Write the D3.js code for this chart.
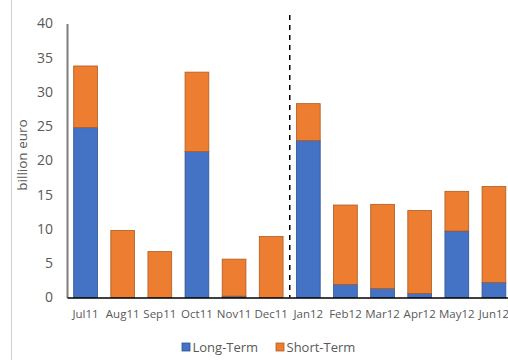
<!DOCTYPE html>
<html>
<head>
<meta charset="utf-8">
<script src="https://cdn.jsdelivr.net/npm/d3@7"></script>
<style>
  html, body { margin: 0; padding: 0; background: #fff; }
  svg { display: block; }
  text { font-family: "Open Sans", "Noto Sans", sans-serif; }
</style>
</head>
<body>
<svg id="chart" width="508" height="360"></svg>
<script>
// Monthly issuance, billion euro
const months = ["Jul11", "Aug11", "Sep11", "Oct11", "Nov11", "Dec11",
                "Jan12", "Feb12", "Mar12", "Apr12", "May12", "Jun12"];
const longTerm  = [24.8, 0, 0, 21.3, 0.2, 0, 22.9, 1.9, 1.3, 0.6, 9.7, 2.2];
const shortTerm = [9.0, 9.8, 6.7, 11.6, 5.4, 8.9, 5.4, 11.6, 12.3, 12.1, 5.8, 14.0];
const yTicks = [0, 5, 10, 15, 20, 25, 30, 35, 40];
const seriesNames = ["Long-Term", "Short-Term"];
const seriesColors = ["#4472C4", "#ED7D31"];
const seriesStrokes = ["#2F528F", "#AE5A21"];
const splitAfter = "Dec11";

const svg = d3.select("#chart");
const plotLeft = 67, plotRight = 512.5, plotTop = 23.5, plotBottom = 297.5;

const x = d3.scaleBand().domain(months).range([plotLeft, plotRight]).paddingInner(0.36).paddingOuter(0.18);
const y = d3.scaleLinear().domain([0, 40]).range([plotBottom, plotTop]);

// outer frame edge
svg.append("line").attr("x1", 11.5).attr("x2", 11.5).attr("y1", 0).attr("y2", 360)
  .attr("stroke", "#d0d0d0").attr("stroke-width", 1);

const rows = months.map((m, i) => ({ month: m, "Long-Term": longTerm[i], "Short-Term": shortTerm[i] }));
const stacked = d3.stack().keys(seriesNames)(rows);

svg.append("g").selectAll("g").data(stacked).join("g")
  .attr("fill", (d, i) => seriesColors[i])
  .attr("stroke", (d, i) => seriesStrokes[i])
  .attr("stroke-width", 0.8)
  .selectAll("rect")
  .data(d => d.filter(p => p[1] - p[0] > 0))
  .join("rect")
  .attr("x", d => x(d.data.month))
  .attr("width", x.bandwidth())
  .attr("y", d => y(d[1]))
  .attr("height", d => y(d[0]) - y(d[1]));

// y axis
const yAxis = svg.append("g").attr("transform", `translate(${plotLeft},0)`)
  .call(d3.axisLeft(y).tickValues(yTicks).tickSize(0).tickPadding(14));
yAxis.select(".domain").attr("stroke", "#7f7f7f").attr("stroke-width", 2);
yAxis.selectAll("text").attr("fill", "#595959").attr("font-size", 14)
  .attr("font-family", "'Open Sans', sans-serif");

// x axis
const xAxis = svg.append("g").attr("transform", `translate(0,${plotBottom})`)
  .call(d3.axisBottom(x).tickSize(0).tickPadding(12));
xAxis.select(".domain").attr("stroke", "#000").attr("stroke-width", 1.5);
xAxis.selectAll("text").attr("fill", "#595959").attr("font-size", 11.5)
  .attr("font-family", "'Open Sans', sans-serif");

// dashed separator between 2011 and 2012
const splitX = x(splitAfter) + x.bandwidth() + x.step() * x.paddingInner() / 2;
svg.append("line").attr("x1", splitX).attr("x2", splitX)
  .attr("y1", 15).attr("y2", plotBottom)
  .attr("stroke", "#000").attr("stroke-width", 1.5).attr("stroke-dasharray", "5,5");

// y axis title
svg.append("text").attr("transform", "translate(27,155) rotate(-90)")
  .attr("text-anchor", "middle").attr("fill", "#595959").attr("font-size", 13.5)
  .text("billion euro");

// legend
const legend = svg.append("g");
const legendX = [182, 276];
seriesNames.forEach((name, i) => {
  const g = legend.append("g").attr("transform", `translate(${legendX[i]},343)`);
  g.append("rect").attr("width", 8).attr("height", 8)
    .attr("fill", seriesColors[i]).attr("stroke", seriesStrokes[i]).attr("stroke-width", 0.8);
  g.append("text").attr("x", 10.5).attr("y", 8.5).attr("fill", "#595959").attr("font-size", 13)
    .text(name);
});
</script>
</body>
</html>
